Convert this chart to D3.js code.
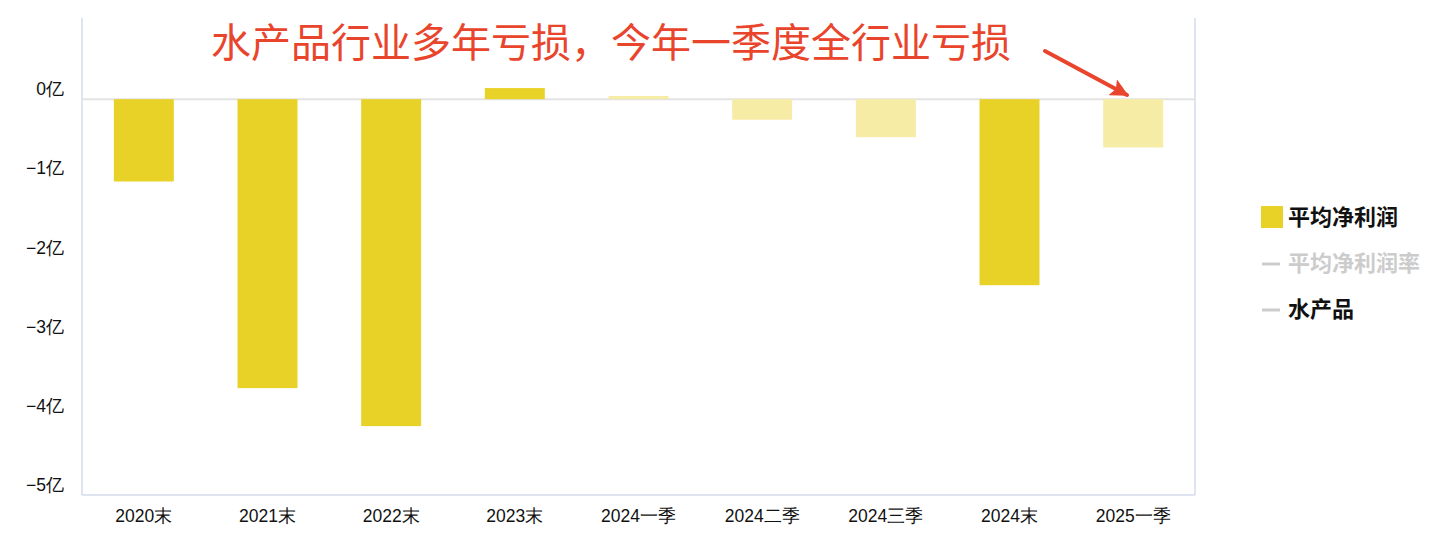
<!DOCTYPE html>
<html>
<head>
<meta charset="utf-8">
<script src="https://d3js.org/d3.v7.min.js"></script>
<style>
    body { margin: 0; background: #fff; }
    svg { font-family: "Noto Sans CJK SC", "Noto Sans", sans-serif; }
    .axis path { display: none; }
    .axis line { display: none; }
    .axis text { fill: #111; font-size: 17.5px; }
</style>
</head>
<body>
<svg id="chart" width="1438" height="546"></svg>
<script>
    // periods and average net profit (亿)
    var periods = ["2020末", "2021末", "2022末", "2023末", "2024一季", "2024二季", "2024三季", "2024末", "2025一季"];
    var profits = [-1.04, -3.65, -4.13, 0.14, 0.04, -0.26, -0.48, -2.35, -0.61];
    var quarterly = [false, false, false, false, true, true, true, false, true];
    var yTicks = [0, -1, -2, -3, -4, -5];
    var legendItems = ["平均净利润", "平均净利润率", "水产品"];
    var title = "水产品行业多年亏损，今年一季度全行业亏损";

    var margin = {top: 20, left: 82, right: 243, bottom: 51},
        width = 1438 - margin.left - margin.right,
        height = 546 - margin.top - margin.bottom;

    var svg = d3.select("#chart");
    var g = svg.append("g")
        .attr("transform", "translate(" + margin.left + "," + margin.top + ")");

    var x = d3.scaleBand()
        .domain(periods)
        .range([0, width])
        .paddingInner(0.515)
        .paddingOuter(0.2575);

    var y = d3.scaleLinear()
        .domain([1, -5])
        .range([0, height]);

    // frame lines: left, right, bottom
    g.append("line").attr("x1", 0).attr("x2", 0).attr("y1", -2).attr("y2", height)
        .attr("stroke", "#d3dcec").attr("stroke-width", 1.5);
    g.append("line").attr("x1", width).attr("x2", width).attr("y1", -2).attr("y2", height)
        .attr("stroke", "#d3dcec").attr("stroke-width", 1.5);
    g.append("line").attr("x1", 0).attr("x2", width).attr("y1", height).attr("y2", height)
        .attr("stroke", "#d3dcec").attr("stroke-width", 1.5);

    // zero line
    g.append("line")
        .attr("x1", 0).attr("x2", width)
        .attr("y1", y(0)).attr("y2", y(0))
        .attr("stroke", "#e3e3e3").attr("stroke-width", 2);

    // y labels sit a bit above their value
    var yAxis = d3.axisLeft(y)
        .tickValues(yTicks)
        .tickSize(0)
        .tickPadding(18)
        .tickFormat(function(d) { return (d < 0 ? "\u2212" + (-d) : d) + "亿"; });
    g.append("g").attr("class", "axis")
        .call(yAxis)
        .selectAll("text").attr("dy", "-0.25em");

    var xAxis = d3.axisBottom(x).tickSize(0).tickPadding(15);
    g.append("g").attr("class", "axis")
        .attr("transform", "translate(0," + height + ")")
        .call(xAxis);

    g.selectAll(".bar")
        .data(periods)
        .enter().append("rect")
        .attr("class", "bar")
        .attr("x", function(d) { return x(d); })
        .attr("width", x.bandwidth())
        .attr("y", function(d, i) { return y(Math.max(0, profits[i])); })
        .attr("height", function(d, i) { return Math.abs(y(profits[i]) - y(0)); })
        .attr("fill", function(d, i) { return quarterly[i] ? "#f7eca6" : "#e8d228"; });

    // title
    svg.append("text")
        .attr("x", 211)
        .attr("y", 57)
        .attr("fill", "#e9442c")
        .attr("font-size", "40px")
        .text(title);

    // arrow
    svg.append("defs").append("marker")
        .attr("id", "head")
        .attr("viewBox", "0 0 10 10")
        .attr("refX", 9).attr("refY", 5)
        .attr("markerWidth", 4.5).attr("markerHeight", 4.5)
        .attr("orient", "auto")
        .append("path").attr("d", "M0,0L10,5L0,10L2,5Z").attr("fill", "#e9442c");
    svg.append("line")
        .attr("x1", 1045).attr("y1", 51)
        .attr("x2", 1127).attr("y2", 95)
        .attr("stroke", "#e9442c").attr("stroke-width", 4)
        .attr("stroke-linecap", "round")
        .attr("marker-end", "url(#head)");

    // legend
    var legend = svg.append("g").attr("transform", "translate(1260,217)");
    var row = legend.selectAll(".lg")
        .data(legendItems)
        .enter().append("g")
        .attr("transform", function(d, i) { return "translate(0," + (i * 46) + ")"; });
    row.each(function(d, i) {
        var r = d3.select(this);
        if (i === 0) {
            r.append("rect").attr("x", 1).attr("y", -11).attr("width", 22).attr("height", 22)
                .attr("fill", "#e8d228");
        } else {
            r.append("line").attr("x1", 2).attr("x2", 20).attr("y1", 1).attr("y2", 1)
                .attr("stroke", "#cccccc").attr("stroke-width", 3);
        }
        r.append("text")
            .attr("x", 28).attr("y", 0).attr("dy", "0.35em")
            .attr("font-size", "22px").attr("font-weight", "bold")
            .attr("fill", i === 1 ? "#cccccc" : "#111")
            .text(d);
    });
</script>
</body>
</html>
